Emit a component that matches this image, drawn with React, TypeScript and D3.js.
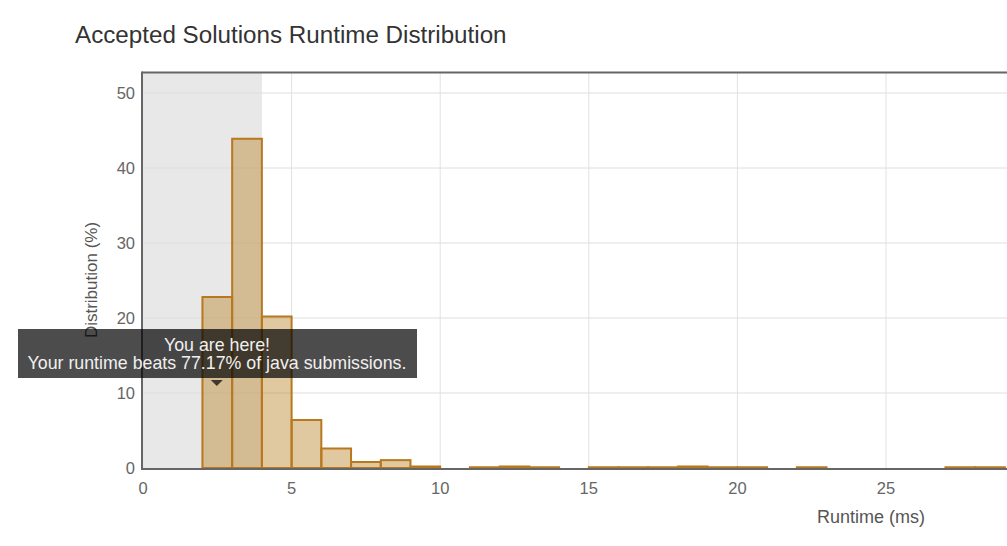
import React from "react";
import * as d3 from "d3";

const binStarts = [2, 3, 4, 5, 6, 7, 8, 9, 11, 12, 13, 15, 16, 17, 18, 19, 20, 22, 27, 28];
const binValues = [22.8, 43.9, 20.2, 6.4, 2.6, 0.8, 1.05, 0.2, 0.1, 0.2, 0.1, 0.1, 0.1, 0.1, 0.2, 0.1, 0.1, 0.1, 0.1, 0.1];
const xTicks = [0, 5, 10, 15, 20, 25];
const yTicks = [0, 10, 20, 30, 40, 50];
const bandRange = [0, 4];
const title = "Accepted Solutions Runtime Distribution";
const xLabel = "Runtime (ms)";
const yLabel = "Distribution (%)";
const tipLine1 = "You are here!";
const tipLine2 = "Your runtime beats 77.17% of java submissions.";
const tipAt = 2.5;

const FONT = "'Liberation Sans', Arial, sans-serif";

export default function App() {
  const W = 1007, H = 546;
  const left = 143, top = 73, bottom = 468;
  const x = d3.scaleLinear().domain([0, 30]).range([left, left + 30 * 29.72]);
  const y = d3.scaleLinear().domain([0, 52.8]).range([bottom, 72]);
  const plotRight = x(31);
  const tipX = x(tipAt) - 0.5;

  return (
    <svg width={W} height={H} style={{ position: "absolute", left: 0, top: 0, fontFamily: FONT }}>
      <rect x={0} y={0} width={W} height={H} fill="#fff" />
      <text x={75} y={43} fontSize={24.2} fill="#333">{title}</text>

      {/* band */}
      <rect x={x(bandRange[0])} y={top} width={x(bandRange[1]) - x(bandRange[0])} height={bottom - top} fill="#e8e8e8" />

      {/* gridlines */}
      {xTicks.filter(t => t > 0).map(t => (
        <line key={"gx" + t} x1={x(t)} x2={x(t)} y1={top} y2={bottom} stroke="#e2e2e2" strokeWidth={1} />
      ))}
      {yTicks.filter(t => t > 0).map(t => (
        <line key={"gy" + t} x1={left} x2={plotRight} y1={y(t)} y2={y(t)} stroke="#dedede" strokeWidth={1} />
      ))}

      {/* bars */}
      {binStarts.map((s, i) => (
        <rect key={"b" + s} x={x(s)} y={y(binValues[i])} width={x(s + 1) - x(s)} height={y(0) - y(binValues[i])}
          fill="rgba(185,130,39,0.44)" stroke="#b8781e" strokeWidth={2} />
      ))}

      {/* frame */}
      <line x1={left - 1} x2={plotRight} y1={top - 0.5} y2={top - 0.5} stroke="#666" strokeWidth={2} />
      <line x1={left - 1} x2={left - 1} y1={top - 1.5} y2={bottom + 2} stroke="#666" strokeWidth={2} />
      <line x1={left - 1} x2={plotRight} y1={bottom + 1} y2={bottom + 1} stroke="#666" strokeWidth={2} />

      {/* ticks */}
      {yTicks.map(t => (
        <text key={"yt" + t} x={135} y={y(t) + 6} textAnchor="end" fontSize={16.5} fill="#666">{t}</text>
      ))}
      {xTicks.map(t => (
        <text key={"xt" + t} x={x(t)} y={494} textAnchor="middle" fontSize={16.5} fill="#666">{t}</text>
      ))}

      <text x={871} y={523} textAnchor="middle" fontSize={18} fill="#555">{xLabel}</text>
      <text transform={`translate(97,280) rotate(-90)`} textAnchor="middle" fontSize={17} fill="#555">{yLabel}</text>

      {/* tooltip */}
      <rect x={18} y={329} width={399} height={49} fill="rgba(0,0,0,0.7)" />
      <path d={`M${tipX - 6},380 L${tipX + 6},380 L${tipX},386 Z`} fill="rgba(0,0,0,0.7)" />
      <text x={217} y={351} textAnchor="middle" fontSize={17.8} fill="#f0f0f0">{tipLine1}</text>
      <text x={217} y={369} textAnchor="middle" fontSize={17.8} fill="#f0f0f0">{tipLine2}</text>
    </svg>
  );
}
